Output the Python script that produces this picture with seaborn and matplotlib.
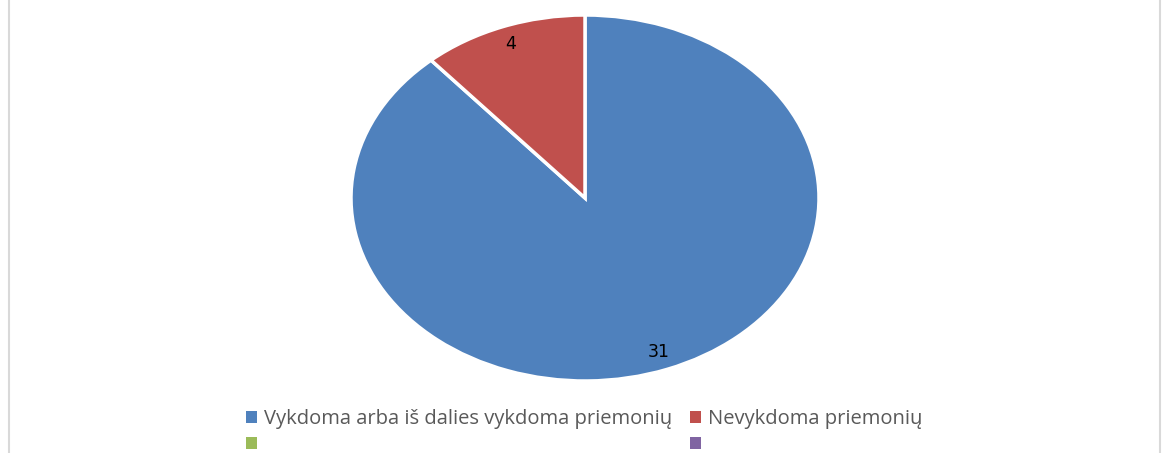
import matplotlib
matplotlib.use("Agg")
import matplotlib.pyplot as plt
from matplotlib.patches import Patch, Rectangle
import seaborn as sns

categories = ["Vykdoma arba iš dalies vykdoma priemonių", "Nevykdoma priemonių", "", ""]
values = [31, 4, 0, 0]
colors = ["#4F81BD", "#C0504D", "#9BBB59", "#8064A2"]

sns.set_theme(style="white")
plt.rcParams['font.family'] = ['Open Sans', 'DejaVu Sans']
sns.set_palette(colors)

fig = plt.figure(figsize=(11.68, 4.53), dpi=100)
fig.patch.set_facecolor("white")

# chart frame (left/right borders visible)
fig.patches.append(Rectangle((8.5 / 1168, -0.05), (1159.5 - 8.5) / 1168, 1.1,
                             transform=fig.transFigure, fill=False,
                             edgecolor="#D9D9D9", linewidth=1.5))

ax = fig.add_axes([351 / 1168, (453 - 381) / 453, 468 / 1168, 366 / 453])
pie_vals = [v for v in values if v > 0]
pie_cols = [c for v, c in zip(values, colors) if v > 0]
wedges, texts, autotexts = ax.pie(
    pie_vals, colors=pie_cols, startangle=90, counterclock=False,
    autopct=lambda p: f"{round(p * sum(pie_vals) / 100):d}",
    pctdistance=0.9, radius=1.0,
    wedgeprops=dict(edgecolor="white", linewidth=2.5))
for t in autotexts:
    t.set_fontfamily(["DejaVu Sans"])
    t.set_fontsize(12.5)
    t.set_color("black")
ax.set_aspect("auto")
ax.set_xlim(-1, 1)
ax.set_ylim(-1, 1)
ax.axis("off")

# legend: row-wise order -> column-major for matplotlib
order = [0, 2, 1, 3]
handles = [Patch(facecolor=colors[i], edgecolor="none") for i in order]
labels = [categories[i] for i in order]
leg = fig.legend(handles, labels, ncol=2, loc="center",
                 bbox_to_anchor=(584 / 1168, 1 - 432.5 / 453),
                 frameon=False, fontsize=14.5, handlelength=0.55, handleheight=0.55,
                 handletextpad=0.35, columnspacing=0.9, labelspacing=0.3)
for t in leg.get_texts():
    t.set_color("#595959")

fig.savefig("out.png", dpi=100, facecolor="white")
